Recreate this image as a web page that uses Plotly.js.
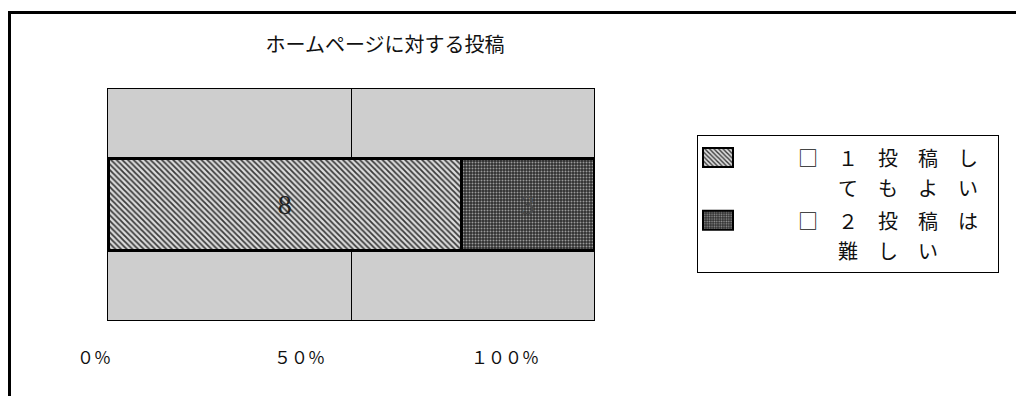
<!DOCTYPE html>
<html><head><meta charset="utf-8">
<script src="https://cdn.plot.ly/plotly-3.0.1.min.js"></script>
<style>
html,body{margin:0;padding:0;background:#fff;overflow:hidden;}
#chart{width:1016px;height:396px;}
</style></head><body>
<div id="chart"></div>
<script>
// ---- data ----
const titleText = 'ホームページに対する投稿';
const categories = ['投稿'];
const seriesLines = [
  ['□　１　投　稿　し', '　　て　も　よ　い'],
  ['□　２　投　稿　は', '　　難　し　い']
];
const valuesOK = [8];
const valuesHard = [3];
const tickVals = [0, 50, 100];
const tickLabels = ['０％', '５０％', '１００％'];

// ---- layout geometry (pixels) ----
const W = 1016, H = 396;
const mL = 80, mR = 416, mT = 89, mB = 76;
const pw = W - mL - mR, ph = H - mT - mB;
const px = v => (v - mL) / pw;
const py = v => (H - mB - v) / ph;

const jp = '"Noto Sans CJK JP", "Noto Sans", sans-serif';
const legendName = lines => lines
  .map((l, i) => '<span style="font-size:20px">　　　' + l + (i === 0 ? '\u2002\u2005' : '') + '</span>')
  .join('<br>');

const traces = [
  {
    type: 'bar', orientation: 'h', name: legendName(seriesLines[0]),
    y: categories, x: valuesOK,
    text: valuesOK.map(String), textposition: 'inside', insidetextanchor: 'middle',
    textangle: 0,
    textfont: {family: '"Liberation Serif", serif', size: 28, color: '#222'},
    marker: {
      color: '#d8d8d8',
      pattern: {shape: '\\', bgcolor: '#dcdcdc', fgcolor: '#3a3a3a', size: 4, solidity: 0.45},
      line: {color: '#000', width: 3}
    },
    width: 0.4, hoverinfo: 'skip'
  },
  {
    type: 'bar', orientation: 'h', name: legendName(seriesLines[1]),
    y: categories, x: valuesHard,
    text: valuesHard.map(String), textposition: 'inside', insidetextanchor: 'middle',
    textangle: 0,
    textfont: {family: '"Liberation Serif", serif', size: 28, color: '#4a4a4a'},
    marker: {
      color: '#444',
      pattern: {shape: '.', bgcolor: '#2e2e2e', fgcolor: '#9a9a9a', size: 3, solidity: 0.35},
      line: {color: '#000', width: 3}
    },
    width: 0.4, hoverinfo: 'skip'
  },
  {
    // carrier so the shifted percent-label axis is drawn
    type: 'scatter', mode: 'markers', xaxis: 'x2', yaxis: 'y',
    x: valuesOK, y: categories, marker: {opacity: 0, size: 1},
    showlegend: false, hoverinfo: 'skip'
  }
];

const layout = {
  width: W, height: H,
  margin: {l: mL, r: mR, t: mT, b: mB, pad: 0},
  paper_bgcolor: '#fff',
  plot_bgcolor: 'rgba(0,0,0,0)',
  barmode: 'stack', barnorm: 'percent',
  showlegend: true,
  title: {
    text: titleText, xref: 'container', yref: 'container',
    x: 385 / W, xanchor: 'center', y: 1 - 45 / H, yanchor: 'middle',
    font: {family: jp, size: 20, color: '#111'}
  },
  xaxis: {
    domain: [px(108), px(594)], range: [0, 100], fixedrange: true,
    tickvals: tickVals, showticklabels: false, ticks: '',
    showgrid: true, gridcolor: '#000', gridwidth: 1, zeroline: false,
    showline: true, mirror: true, linecolor: '#000', linewidth: 1
  },
  xaxis2: {
    domain: [px(94), px(505)], range: [0, 100], anchor: 'y', fixedrange: true,
    tickvals: tickVals, ticktext: tickLabels, ticks: '',
    showgrid: false, zeroline: false, showline: false,
    ticklabelstandoff: 26,
    tickfont: {family: jp, size: 17, color: '#111'}
  },
  yaxis: {
    range: [-0.5, 0.5], showticklabels: false, ticks: '', fixedrange: true,
    showgrid: false, zeroline: false,
    showline: true, mirror: true, linecolor: '#000', linewidth: 1
  },
  shapes: [
    {
      type: 'rect', xref: 'x domain', yref: 'y domain', x0: 0, x1: 1, y0: 0, y1: 1,
      fillcolor: '#cecece', line: {width: 0}, layer: 'below'
    },
    {
      type: 'line', xref: 'paper', yref: 'paper',
      x0: px(8), x1: px(1020), y0: py(12.5), y1: py(12.5),
      line: {color: '#000', width: 3}, layer: 'above'
    },
    {
      type: 'line', xref: 'paper', yref: 'paper',
      x0: px(9.5), x1: px(9.5), y0: py(11), y1: py(400),
      line: {color: '#000', width: 3}, layer: 'above'
    }
  ],
  legend: {
    x: px(697), xanchor: 'left', y: py(135), yanchor: 'top',
    bgcolor: '#fff', bordercolor: '#000', borderwidth: 1,
    traceorder: 'normal', valign: 'top',
    font: {family: jp, size: 23, color: '#111'}
  }
};

Plotly.newPlot('chart', traces, layout, {displayModeBar: false, staticPlot: true}).then(gd => {
  // widen the legend swatches to the reference's flat rectangles
  gd.querySelectorAll('.legend .legendpoints path').forEach(p => {
    p.setAttribute('d', 'M15,9.5H-15V-9.5H15Z');
    p.style.strokeWidth = '2px';
    p.style.stroke = '#000';
  });
});
</script>
</body></html>
